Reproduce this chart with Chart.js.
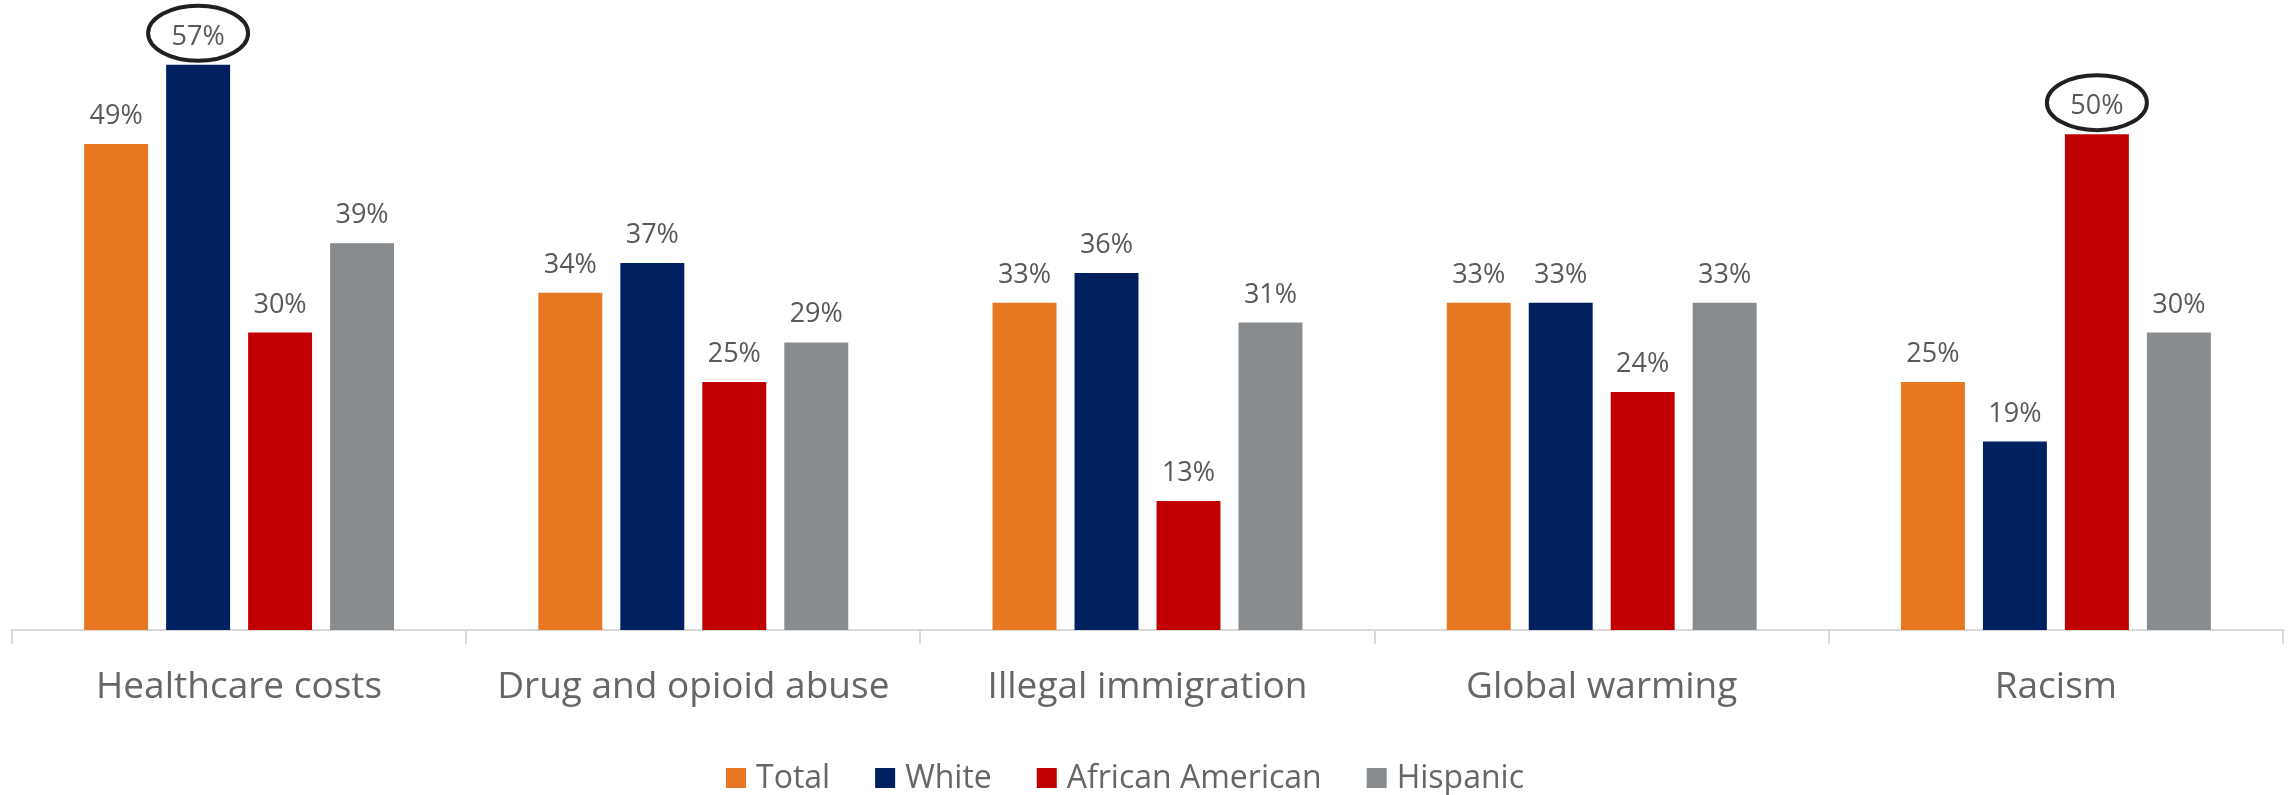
<!DOCTYPE html>
<html>
<head>
<meta charset="utf-8">
<script src="https://cdn.jsdelivr.net/npm/chart.js@4"></script>
<style>
  html, body { margin:0; padding:0; background:#fff; }
  #wrap { width:2293px; height:795px; position:relative; }
</style>
</head>
<body>
<div id="wrap"><canvas id="chart"></canvas></div>
<script>
const categories = ["Healthcare costs", "Drug and opioid abuse", "Illegal immigration", "Global warming", "Racism"];
const total    = [49, 34, 33, 33, 25];
const white    = [57, 37, 36, 33, 19];
const african  = [30, 25, 13, 24, 50];
const hispanic = [39, 29, 31, 33, 30];
// [dataset index, category index] of the circled values
const circled = [[1, 0], [2, 4]];

const labelColor = '#595959';

// value labels above each bar, plus the hand-drawn ovals
const valueLabels = {
    id:'valueLabels',
    afterDatasetsDraw(chart){
        const ctx = chart.ctx;
        ctx.save();
        ctx.font = '27px "Open Sans"';
        ctx.fillStyle = labelColor;
        ctx.textAlign = 'center';
        ctx.textBaseline = 'alphabetic';
        chart.data.datasets.forEach((ds, di) => {
            chart.getDatasetMeta(di).data.forEach((bar, i) => {
                ctx.fillText(ds.data[i] + '%', bar.x, bar.y - 20);
            });
        });
        ctx.strokeStyle = '#231F20';
        ctx.lineWidth = 4;
        circled.forEach(([di, i]) => {
            const bar = chart.getDatasetMeta(di).data[i];
            ctx.beginPath();
            ctx.ellipse(bar.x, bar.y - 31.5, 50, 27.5, 0, 0, Math.PI * 2);
            ctx.stroke();
        });
        ctx.restore();
    }
};

// legend drawn by hand to get the box/text spacing of the original
const legendRow = {
    id:'legendRow',
    afterDraw(chart){
        const ctx = chart.ctx;
        const box = 20, gap = 10, space = 45;
        const cx = 1125, base = 788;
        ctx.save();
        ctx.font = '32px "Open Sans"';
        const items = chart.data.datasets.map(d => ({
            text:d.label, color:d.backgroundColor, w:ctx.measureText(d.label).width
        }));
        const width = items.reduce((s, it) => s + box + gap + it.w, 0) + space * (items.length - 1);
        let x = cx - width / 2;
        ctx.textBaseline = 'alphabetic';
        items.forEach(it => {
            ctx.fillStyle = it.color;
            ctx.fillRect(x, base - box, box, box);
            x += box + gap;
            ctx.fillStyle = '#666';
            ctx.fillText(it.text, x, base);
            x += it.w + space;
        });
        ctx.restore();
    }
};

new Chart(document.getElementById('chart'), {
    type:'bar',
    data:{
        labels:categories,
        datasets:[
            {label:'Total', data:total, backgroundColor:'#E87722'},
            {label:'White', data:white, backgroundColor:'#002060'},
            {label:'African American', data:african, backgroundColor:'#C00000'},
            {label:'Hispanic', data:hispanic, backgroundColor:'#898C8E'}
        ]
    },
    options:{
        responsive:true,
        maintainAspectRatio:false,
        animation:false,
        categoryPercentage:0.722,
        barPercentage:0.78,
        layout:{ padding:{ top:35, left:12, right:10, bottom:0 } },
        plugins:{
            legend:{ display:false },
            tooltip:{ enabled:false }
        },
        scales:{
            y:{ display:false, min:0, max:60 },
            x:{
                afterFit(s){ s.height = 165; },
                border:{ display:true, color:'#D9D9D9', width:2 },
                grid:{ offset:true, drawOnChartArea:false, drawTicks:true, tickLength:14, color:'#D9D9D9', lineWidth:2 },
                ticks:{ color:'#666', padding:21, font:{ family:'"Open Sans"', size:37 } }
            }
        }
    },
    plugins:[valueLabels, legendRow]
});
</script>
</body>
</html>
